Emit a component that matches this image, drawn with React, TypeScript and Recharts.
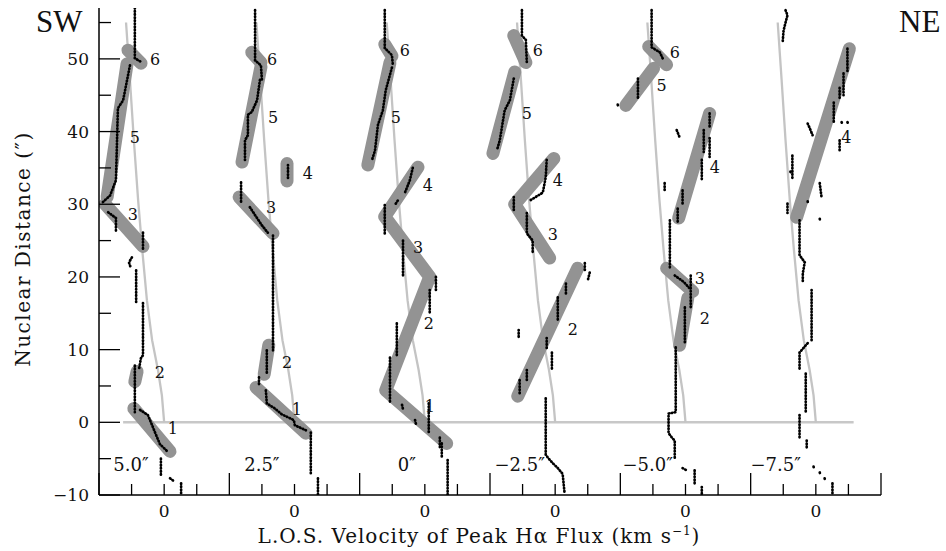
import { ComposedChart, Line, Scatter, XAxis, YAxis } from "recharts";

// velocity axis: 100 km/s per tick, each slit panel is offset by 400
const PANEL_ZERO = [0, 400, 800, 1200, 1600, 2000];
const PANEL_NAMES = ["5.0″", "2.5″", "0″", "−2.5″", "−5.0″", "−7.5″"];
const PANEL_NAME_V = [-102, -100, -55, -109, -116, -123];
const PANEL_NAME_D = -5.9;

const X_TICKS = [
  -200, -100, 0, 100, 200, 300, 400, 500, 600, 700, 800, 900, 1000, 1100,
  1200, 1300, 1400, 1500, 1600, 1700, 1800, 1900, 2000, 2100, 2200,
];
const Y_TICKS = [-10, -5, 0, 5, 10, 15, 20, 25, 30, 35, 40, 45, 50, 55];

// model rotation curve (same in every panel), [velocity, distance]
const MODEL_CURVE = [
  [-117, 55], [-105, 47.1], [-93, 38.8], [-80, 30.6], [-68, 24.1],
  [-53, 16.8], [-37, 11.3], [-19, 7.2], [-7, 3.7], [0, 0],
];
const ZERO_LINE = [[-126, 0], [2116, 0]];

const BANDS_P1 = [
  [[-111, 51.2], [-71, 49.4]],
  [[-114, 49.3], [-175, 31.0]],
  [[-181, 30.0], [-65, 24.2]],
  [[-83, 7.0], [-90, 5.6]],
  [[-93, 1.9], [18, -4.0]],
];
const LABELS_P1 = [[-28, 50.0, "6"], [-90, 39.2, "5"], [-96, 28.6, "3"], [-13, 6.9, "2"], [27, -0.8, "1"]];
const DOTS_P1 = [
  [[-90, 57], [-90, 50.1], [-68, 49.5]],
  [[-105, 49.1], [-126, 44.3], [-142, 43.2], [-148, 33.3], [-166, 31.2], [-188, 30.3]],
  [[-172, 28.9], [-148, 28.1], [-148, 26.1]],
  [[-65, 26.1], [-65, 23.7]],
  [[-99, 22.7], [-108, 22.0], [-102, 21.2]],
  [[-86, 20.9], [-86, 16.4]],
  [[-65, 16.4], [-65, 9.2], [-71, 8.9], [-77, 7.4]],
  [[-90, 7.8], [-90, 1.4]],
  [[-74, 1.7], [-50, 1.0], [-37, -0.4], [-28, -1.4], [-13, -3.0], [12, -4.1]],
  [[-10, -5.0], [-10, -7.3]],
  [[18, -7.7], [30, -8.1]],
  [[52, -8.4], [52, -10]],
];

const BANDS_P2 = [
  [[-131, 50.9], [-103, 49.5]],
  [[-103, 48.9], [-161, 35.8]],
  [[-23, 35.6], [-23, 33.2]],
  [[-170, 31.0], [-66, 26.0]],
  [[-79, 10.6], [-93, 6.6]],
  [[-118, 4.8], [35, -1.5]],
];
const LABELS_P2 = [[-69, 50.0, "6"], [-66, 42.0, "5"], [41, 34.3, "4"], [-72, 29.6, "3"], [-23, 8.3, "2"], [7, 1.9, "1"]];
const DOTS_P2 = [
  [[-121, 56.7], [-121, 49.8], [-103, 49.1], [-100, 47.1]],
  [[-106, 47.1], [-115, 44.3], [-131, 42.7], [-143, 42.3], [-143, 39.5], [-152, 38.8], [-152, 36.1]],
  [[-20, 35.4], [-20, 33.3]],
  [[-164, 33.0], [-164, 30.1]],
  [[-137, 29.6], [-121, 28.5], [-100, 27.1], [-82, 26.1]],
  [[-66, 25.7], [-66, 9.9]],
  [[-85, 9.9], [-85, 6.5]],
  [[-109, 6.2], [-109, 5.0]],
  [[-88, 4.4], [-85, 2.6], [-60, 1.9], [-39, 1.1], [-2, 0.3], [1, -0.4], [35, -1.1]],
  [[50, -1.4], [50, -7.0]],
  [[72, -7.7], [72, -10]],
];

const BANDS_P3 = [
  [[-123, 52.0], [-101, 50.4]],
  [[-107, 49.5], [-175, 35.4]],
  [[-21, 35.1], [-123, 28.3], [15, 20.0], [-120, 4.4], [67, -2.9]],
];
const LABELS_P3 = [[-61, 51.2, "6"], [-89, 42.0, "5"], [9, 32.7, "4"], [-21, 24.1, "3"], [12, 13.6, "2"], [15, 2.3, "1"]];
const DOTS_P3 = [
  [[-123, 56.7], [-123, 51.5], [-101, 50.5], [-98, 49.1]],
  [[-101, 48.8], [-120, 45.7], [-129, 42.9], [-144, 40.9], [-153, 37.4], [-162, 36.1]],
  [[-123, 29.9], [-123, 25.7]],
  [[-37, 35.0], [-46, 33.3], [-61, 31.6]],
  [[-83, 30.5], [-92, 29.9]],
  [[-67, 25.0], [-67, 20.2]],
  [[34, 20.0], [34, 18.2]],
  [[15, 18.2], [15, 15.1]],
  [[-86, 13.6], [-86, 9.2]],
  [[-107, 8.9], [-107, 2.8]],
  [[-70, 2.4], [-66, 1.6]],
  [[-30, 0.3], [-27, -0.3]],
  [[12, 2.6], [12, -1.5]],
  [[46, -2.1], [46, -3.4]],
  [[52, -2.9], [52, -5.0]],
  [[70, -5.2], [70, -10]],
];

const BANDS_P4 = [
  [[-127, 53.2], [-90, 49.5]],
  [[-124, 48.2], [-191, 37.0]],
  [[-4, 36.3], [-124, 30.0], [-17, 22.6]],
  [[69, 21.2], [-115, 3.6]],
];
const LABELS_P4 = [[-53, 51.2, "6"], [-87, 42.5, "5"], [8, 33.3, "4"], [-7, 25.9, "3"], [54, 12.9, "2"]];
const DOTS_P4 = [
  [[-102, 56.7], [-102, 53.2], [-90, 52.6], [-87, 49.5]],
  [[-127, 47.3], [-139, 44.3], [-155, 42.9], [-170, 38.8], [-179, 37.4]],
  [[-26, 36.1], [-29, 33.7], [-38, 31.6], [-78, 30.5]],
  [[-127, 31.0], [-127, 28.9]],
  [[-87, 28.8], [-87, 26.0], [-69, 25.0], [-69, 23.4]],
  [[91, 21.9], [91, 20.9]],
  [[106, 20.6], [100, 19.5]],
  [[33, 19.1], [33, 17.5]],
  [[8, 17.2], [8, 13.8]],
  [[-26, 11.6], [-26, 9.9]],
  [[-10, 9.6], [-10, 7.4]],
  [[-87, 7.2], [-87, 5.8]],
  [[-109, 5.8], [-109, 4.0]],
  [[-112, 12.7], [-112, 11.6]],
  [[-29, 3.3], [-29, -4.5], [-10, -5.5], [8, -6.3], [23, -7.1], [29, -9.8]],
];

const BANDS_P5 = [
  [[-113, 51.7], [-58, 49.2]],
  [[-98, 48.7], [-183, 43.6]],
  [[74, 42.5], [-21, 28.1]],
  [[-58, 21.2], [22, 18.0]],
  [[7, 17.1], [-18, 10.6]],
];
const LABELS_P5 = [[-33, 50.9, "6"], [-73, 46.4, "5"], [90, 35.1, "4"], [44, 19.8, "3"], [59, 14.3, "2"]];
const DOTS_P5 = [
  [[-104, 56.7], [-104, 51.6], [-79, 50.9], [-67, 49.8]],
  [[-146, 47.3], [-146, 44.6]],
  [[-208, 43.7], [-206, 43.3]],
  [[74, 42.5], [74, 40.6]],
  [[56, 40.2], [56, 37.2]],
  [[74, 39.1], [74, 36.5]],
  [[50, 36.1], [50, 33.3]],
  [[-9, 31.9], [-9, 29.9]],
  [[-24, 29.4], [-24, 27.5]],
  [[-27, 40.2], [-18, 39.2]],
  [[-64, 32.9], [-64, 31.9]],
  [[-48, 27.8], [-48, 21.3]],
  [[-33, 20.2], [-5, 19.3], [13, 18.4]],
  [[16, 20.2], [16, 15.8]],
  [[-2, 15.8], [-2, 10.9]],
  [[-30, 10.3], [-30, 1.4], [-52, 1.2], [-52, -1.5], [-40, -2.2], [-33, -2.5], [-33, -5.2]],
  [[-9, -6.3], [7, -6.7]],
  [[28, -6.6], [28, -8.4]],
  [[50, -8.9], [50, -10]],
];

const BANDS_P6 = [[[103, 51.4], [-59, 28.2]]];
const LABELS_P6 = [[94, 39.2, "4"]];
const DOTS_P6 = [
  [[-93, 56.7], [-87, 56], [-93, 55.0], [-99, 53.9], [-102, 52.2]],
  [[97, 51.4], [97, 48.0]],
  [[85, 48.0], [85, 45.0]],
  [[73, 46.0], [73, 44.3]],
  [[55, 44.0], [55, 41.3]],
  [[-25, 41.1], [-19, 40.5], [-10, 39.5]],
  [[73, 38.8], [73, 37.2]],
  [[79, 41.3], [80, 41.2]],
  [[97, 41.3], [98, 41.2]],
  [[-72, 36.7], [-72, 33.3]],
  [[-78, 34.5], [-77, 34.2]],
  [[12, 32.9], [18, 30.8]],
  [[-87, 30.1], [-87, 28.8]],
  [[-25, 30.4], [-24, 30.1]],
  [[12, 28.0], [13, 27.7]],
  [[-50, 27.8], [-50, 23.0], [-34, 22.0], [-40, 20.5], [-40, 19.3]],
  [[-13, 18.2], [-13, 11.3]],
  [[-25, 10.9], [-50, 9.6], [-50, 7.4]],
  [[-31, 6.7], [-31, 1.4]],
  [[-50, 1.0], [-50, -2.1]],
  [[-28, -2.5], [-28, -3.6]],
  [[-7, -6.1], [-6, -6.3]],
  [[12, -6.9], [13, -7.1]],
  [[27, -7.7], [28, -7.9]],
  [[51, -8.4], [51, -10]],
];

const PANELS = [
  { bands: BANDS_P1, dots: DOTS_P1, labels: LABELS_P1 },
  { bands: BANDS_P2, dots: DOTS_P2, labels: LABELS_P2 },
  { bands: BANDS_P3, dots: DOTS_P3, labels: LABELS_P3 },
  { bands: BANDS_P4, dots: DOTS_P4, labels: LABELS_P4 },
  { bands: BANDS_P5, dots: DOTS_P5, labels: LABELS_P5 },
  { bands: BANDS_P6, dots: DOTS_P6, labels: LABELS_P6 },
];

const FONT = "'DejaVu Serif', serif";

const toPts = (pts: any[], off: number) => pts.map(([v, d]) => ({ x: v + off, y: d }));

function BottomTick({ x, y, payload }: any) {
  const rel = (((payload.value + 200) % 400) + 400) % 400;
  const len = rel === 0 ? 22 : 11;
  return (
    <g>
      <line x1={x} x2={x} y1={y} y2={y - len} stroke="#000" strokeWidth={1.3} />
      {rel === 200 && (
        <text x={x} y={y + 22} textAnchor="middle" fontSize={17} fontFamily={FONT} fill="#111">
          0
        </text>
      )}
    </g>
  );
}

function TopTick({ x, y, payload }: any) {
  const rel = (((payload.value + 200) % 400) + 400) % 400;
  const len = rel === 0 ? 21 : 10;
  return <line x1={x} x2={x} y1={y} y2={y + len} stroke="#000" strokeWidth={1.3} />;
}

function LeftTick({ x, y, payload }: any) {
  const major = payload.value % 10 === 0;
  const txt = payload.value < 0 ? `−${-payload.value}` : `${payload.value}`;
  return (
    <g>
      <line x1={x} x2={x + (major ? 21 : 12)} y1={y} y2={y} stroke="#000" strokeWidth={1.3} />
      {major && payload.value <= 50 && (
        <text x={x - 10} y={y + 6} textAnchor="end" fontSize={17} fontFamily={FONT} fill="#111">
          {txt}
        </text>
      )}
    </g>
  );
}

function RightTick({ x, y, payload }: any) {
  const major = payload.value % 10 === 0;
  return <line x1={x} x2={x - (major ? 21 : 10)} y1={y} y2={y} stroke="#000" strokeWidth={1.3} />;
}

function TextMark(props: any) {
  const { cx, cy, payload } = props;
  return (
    <text
      x={cx}
      y={cy}
      dy={6}
      textAnchor="middle"
      fontSize={payload.size}
      fontFamily={FONT}
      fill="#111"
    >
      {payload.text}
    </text>
  );
}

export default function App() {
  const bandLabels = PANELS.flatMap((p, k) =>
    p.labels.map(([v, d, t]: any) => ({ x: v + PANEL_ZERO[k], y: d, text: t, size: 16 }))
  );
  const panelLabels = PANEL_NAMES.map((t, k) => ({
    x: PANEL_NAME_V[k] + PANEL_ZERO[k],
    y: PANEL_NAME_D,
    text: t,
    size: 18,
  }));

  return (
    <div style={{ position: "absolute", left: 0, top: 0, width: 946, height: 551, background: "#fff" }}>
      <ComposedChart
        width={946}
        height={551}
        margin={{ top: 8, right: 65, bottom: 0, left: 0 }}
      >
        <XAxis
          dataKey="x"
          type="number"
          domain={[-200, 2200]}
          ticks={X_TICKS}
          interval={0}
          allowDataOverflow
          height={56}
          tickSize={0}
          tickMargin={0}
          tickLine={false}
          axisLine={{ stroke: "#000", strokeWidth: 1.5 }}
          tick={(p: any) => <BottomTick {...p} />}
        />
        <XAxis
          xAxisId="top"
          orientation="top"
          dataKey="x"
          type="number"
          domain={[-200, 2200]}
          ticks={X_TICKS}
          interval={0}
          allowDataOverflow
          height={0}
          tickSize={0}
          tickMargin={0}
          tickLine={false}
          axisLine={{ stroke: "#000", strokeWidth: 1.5 }}
          tick={(p: any) => <TopTick {...p} />}
        />
        <YAxis
          dataKey="y"
          type="number"
          domain={[-10, 57]}
          ticks={Y_TICKS}
          interval={0}
          allowDataOverflow
          width={99}
          tickSize={0}
          tickMargin={0}
          tickLine={false}
          axisLine={{ stroke: "#000", strokeWidth: 1.5 }}
          tick={(p: any) => <LeftTick {...p} />}
        />
        <YAxis
          yAxisId="right"
          orientation="right"
          dataKey="y"
          type="number"
          domain={[-10, 57]}
          ticks={Y_TICKS}
          interval={0}
          allowDataOverflow
          width={0}
          tickSize={0}
          tickMargin={0}
          tickLine={false}
          axisLine={{ stroke: "#000", strokeWidth: 1.5 }}
          tick={(p: any) => <RightTick {...p} />}
        />

        <Line
          data={toPts(ZERO_LINE, 0)}
          dataKey="y"
          stroke="#c8c8c8"
          strokeWidth={2.5}
          dot={false}
          activeDot={false}
          isAnimationActive={false}
        />
        {PANEL_ZERO.map((off, k) => (
          <Line
            key={`model-${k}`}
            data={toPts(MODEL_CURVE, off)}
            dataKey="y"
            type="linear"
            stroke="#c4c4c4"
            strokeWidth={2.3}
            dot={false}
            activeDot={false}
            isAnimationActive={false}
          />
        ))}
        {PANELS.flatMap((p, k) =>
          p.bands.map((seg, i) => (
            <Line
              key={`band-${k}-${i}`}
              data={toPts(seg, PANEL_ZERO[k])}
              dataKey="y"
              stroke="#939393"
              strokeWidth={13}
              strokeLinecap="round"
              strokeLinejoin="round"
              dot={false}
              activeDot={false}
              isAnimationActive={false}
            />
          ))
        )}
        {PANELS.flatMap((p, k) =>
          p.dots.map((seg, i) => (
            <Line
              key={`dots-${k}-${i}`}
              data={toPts(seg, PANEL_ZERO[k])}
              dataKey="y"
              stroke="#000"
              strokeWidth={2.7}
              strokeDasharray="0.6 2.5"
              strokeLinecap="round"
              dot={false}
              activeDot={false}
              isAnimationActive={false}
            />
          ))
        )}
        <Scatter data={bandLabels} dataKey="y" shape={TextMark} isAnimationActive={false} />
        <Scatter data={panelLabels} dataKey="y" shape={TextMark} isAnimationActive={false} />
      </ComposedChart>

      <svg
        width={946}
        height={551}
        style={{ position: "absolute", left: 0, top: 0, pointerEvents: "none" }}
      >
        <text x={36} y={32} fontSize={31} fontFamily="'Liberation Serif', serif" fill="#111">
          SW
        </text>
        <text x={899} y={32} fontSize={31} fontFamily="'Liberation Serif', serif" fill="#111">
          NE
        </text>
        <text
          transform="translate(30,249) rotate(-90)"
          textAnchor="middle"
          fontSize={20}
          letterSpacing={1.5}
          fontFamily={FONT}
          fill="#111"
        >
          Nuclear Distance (″)
        </text>
        <text
          x={479}
          y={543}
          textAnchor="middle"
          fontSize={20}
          letterSpacing={1}
          fontFamily={FONT}
          fill="#111"
        >
          L.O.S. Velocity of Peak Hα Flux (km s
          <tspan dy={-8} fontSize={12}>−1</tspan>
          <tspan dy={8}>)</tspan>
        </text>
      </svg>
    </div>
  );
}
